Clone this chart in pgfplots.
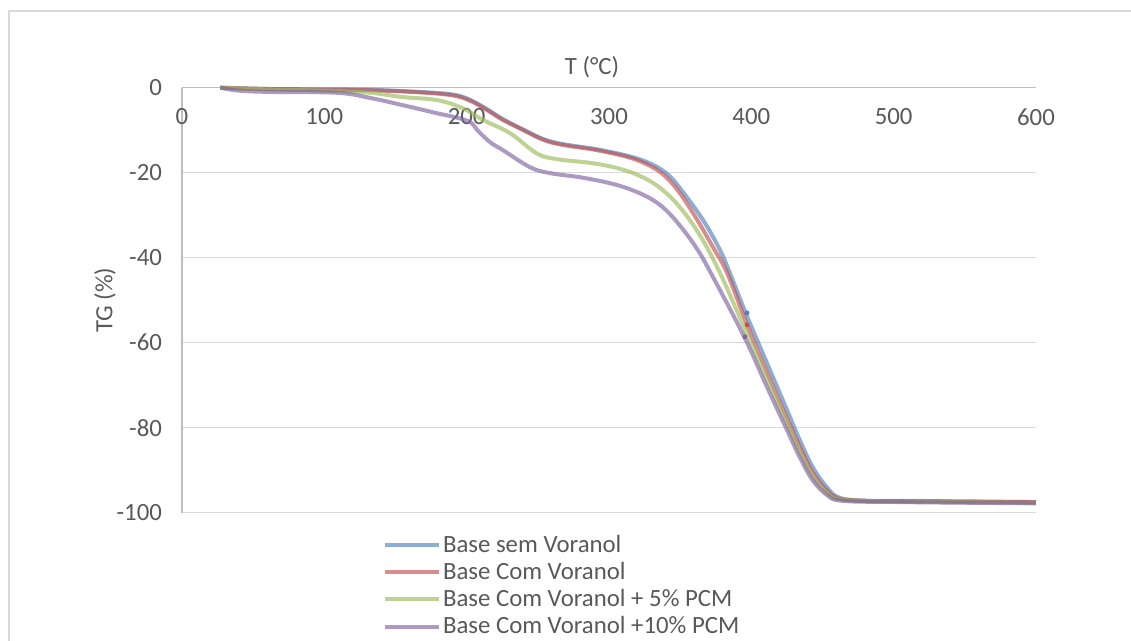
\documentclass[border=0pt]{standalone}
\usepackage{pgfplots}
\pgfplotsset{compat=1.18}
\usepackage{fontspec}
\setmainfont{Carlito}
\definecolor{txt}{HTML}{595959}
\definecolor{gridc}{HTML}{D9D9D9}
\definecolor{axc}{HTML}{BFBFBF}
\definecolor{cb}{HTML}{4F81BD}
\definecolor{cr}{HTML}{C0504D}
\definecolor{cg}{HTML}{9BBB59}
\definecolor{cp}{HTML}{8064A2}
\begin{document}
\begin{tikzpicture}[font=\fontsize{12.4pt}{14.5pt}\selectfont]
\useasboundingbox (-91pt,-64.15pt) rectangle (474.5pt,256.35pt);
\draw[gridc, line width=0.8pt] (-86.35pt,-70pt) -- (-86.35pt,250.85pt) -- (480pt,250.85pt);
\begin{axis}[
  scale only axis, width=427pt, height=212.5pt,
  at={(0pt,0pt)}, anchor=south west,
  xmin=0, xmax=600, ymin=-100, ymax=0,
  axis x line*=top, axis y line*=left,
  axis line style={axc, line width=0.75pt},
  ymajorgrids, grid style={gridc, line width=0.75pt},
  xtick={0,100,200,300,400,500,600},
  xticklabels={0,100,200,300,400,500,600},
  ytick={-100,-80,-60,-40,-20,0},
  yticklabels={-100,-80,-60,-40,-20,0},
  major tick length=0pt, tick style={draw=none},
  xticklabel style={anchor=north, yshift=-7pt, text=txt},
  yticklabel style={xshift=-6.5pt, text=txt},
  xlabel={T (°C)},
  xlabel style={at={(axis description cs:0.4801,1)}, anchor=base, yshift=6.45pt, text=txt},
  ylabel={TG (\%)},
  ylabel style={at={(axis description cs:-0.0902,0.5)}, anchor=center, text=txt},
  clip=false,
  legend cell align=left,
  legend image code/.code={\draw[#1] (0pt,0pt) -- (27pt,0pt);},
  legend style={at={(axis description cs:0.2348,-0.0522)}, anchor=north west,
    draw=none, fill=none, inner sep=0pt, outer sep=0pt, row sep=3.5pt,
    nodes={inner xsep=1.25pt, inner ysep=0pt, text=txt}},
]
\addplot[cb, line width=2pt, opacity=0.65, smooth, tension=0.6] coordinates {
(27,0) (60,-0.3) (100,-0.4) (132,-0.5) (167,-1.0) (190,-1.6) (202,-2.8) (214,-5.0)
(225.5,-7.4) (240,-9.9) (254,-12.1) (268,-13.3) (291.5,-14.5) (315,-16.2) (330,-18.0)
(342,-20.6) (352,-24.6) (366,-31.1) (378,-38.2) (386,-44.5) (396,-53.0) (411,-64.8)
(425,-75.8) (434,-82.9) (443,-89.2) (453,-94.0) (462,-96.5) (481,-97.2) (504,-97.2) (600,-97.5)};
\addlegendentry{Base sem Voranol}
\addplot[cr, line width=2pt, opacity=0.65, smooth, tension=0.6] coordinates {
(27,0) (60,-0.3) (100,-0.5) (132,-0.6) (167,-1.1) (190,-1.8) (202,-3.0) (214,-5.2)
(225.5,-7.6) (240,-10.0) (254,-12.3) (268,-13.5) (291.5,-14.7) (315,-16.5) (330,-18.6)
(340,-21.0) (350,-24.9) (362,-31.1) (373,-37.5) (383,-43.6) (397,-55.8) (411,-67.0) (425,-77.8)
(434,-84.5) (443,-90.5) (453,-94.8) (462,-96.7) (481,-97.2) (504,-97.3) (600,-97.5)};
\addlegendentry{Base Com Voranol}
\addplot[cg, line width=2pt, opacity=0.65, smooth, tension=0.6] coordinates {
(27,0) (60,-0.4) (100,-0.7) (132,-1.2) (155,-2.2) (179,-2.9) (197,-4.8) (211.5,-7.6)
(230.5,-10.7) (249,-15.4) (263,-16.8) (287,-17.7) (305.6,-18.9) (322,-20.8) (336,-23.6)
(350,-28.2) (364,-34.8) (378,-43.6) (396,-57.2) (411,-68.5) (425,-79.0) (434,-85.7)
(443,-91.4) (453,-95.3) (463,-96.9) (500,-97.4) (600,-97.7)};
\addlegendentry{Base Com Voranol + 5\% PCM}
\addplot[cp, line width=2pt, opacity=0.65, smooth, tension=0.6] coordinates {
(27,0) (40,-0.7) (62,-1.0) (109,-1.2) (132,-2.4) (155,-4.1) (179,-6.0) (190,-6.8)
(202,-8.0) (207,-9.8) (212,-11.5) (218,-13.2) (225.5,-14.7) (244.5,-18.7) (258.5,-20.1)
(282,-21.2) (305.6,-22.9) (324,-25.2) (337,-27.9) (349,-32.1) (362,-38.0) (373,-44.5)
(395,-58.6) (411,-70.4) (425,-80.5) (434,-86.9) (443,-92.3) (453,-95.8) (464,-97.2)
(504,-97.5) (600,-97.8)};
\addlegendentry{Base Com Voranol +10\% PCM}
\addplot[forget plot, only marks, mark=*, mark size=1pt, cb] coordinates {(397,-53.0)};
\addplot[forget plot, only marks, mark=*, mark size=1pt, cr] coordinates {(397,-55.8)};
\addplot[forget plot, only marks, mark=*, mark size=1pt, cp] coordinates {(395.5,-58.6)};
\end{axis}
\end{tikzpicture}
\end{document}
